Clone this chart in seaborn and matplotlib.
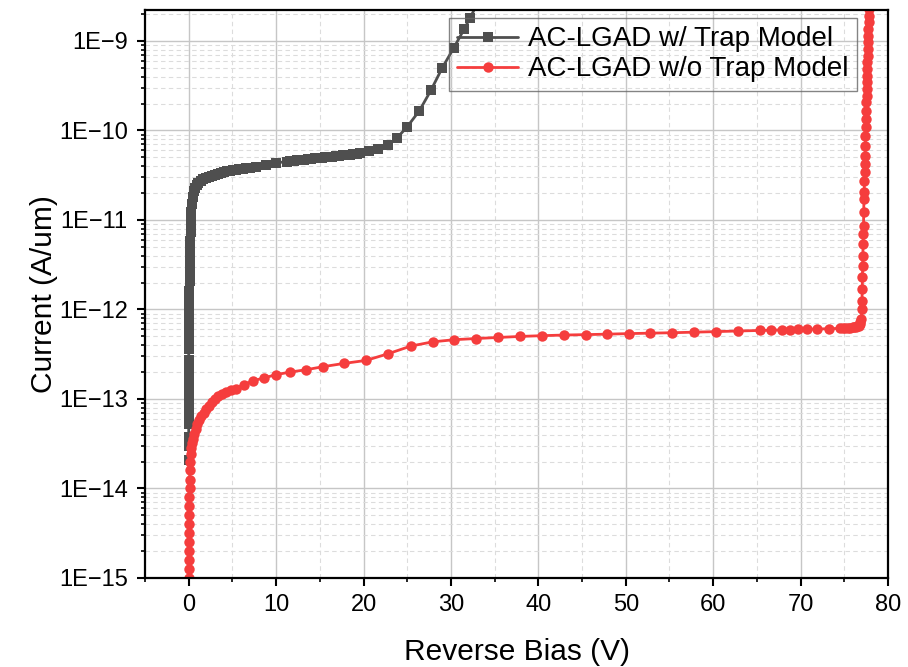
import matplotlib
matplotlib.use("Agg")
import numpy as np
import pandas as pd
import matplotlib.pyplot as plt
import seaborn as sns
from matplotlib.ticker import MultipleLocator, LogLocator, FuncFormatter, NullFormatter

# ---- simulated I-V data: AC-LGAD with trap model ----
trap_bias = [
    0.00, 0.00, 0.00, 0.00, 0.00, 0.00, 0.00, 0.00, 0.00, 0.00, 0.00, 0.00,
    0.02, 0.03, 0.04, 0.05, 0.06, 0.08, 0.10, 0.12, 0.14, 0.16, 0.19, 0.22, 0.26, 0.30, 0.36,
    0.45, 0.57, 0.72, 0.90, 1.10, 1.35, 1.65, 2.00, 2.30, 2.65, 3.00, 3.35, 3.70, 4.05, 4.40,
    4.75, 5.10, 5.45, 5.80, 6.20, 6.60, 7.00,
    7.70, 8.80, 10.00,
    11.2, 11.6, 12.0, 12.4, 12.8, 13.2, 13.6, 14.0, 14.4, 14.8, 15.2, 15.6, 16.0, 16.4, 16.8,
    17.2, 17.6, 18.0, 18.4, 18.8, 19.2, 19.6,
    20.6, 21.7, 22.8, 23.8, 25.0, 26.4, 27.7, 29.0, 30.3, 31.5, 32.2, 33.0,
]
trap_current = [
    2.1e-14, 2.95e-14, 3.8e-14, 5.2e-14, 6.4e-14, 7.9e-14, 9.8e-14, 1.27e-13, 1.65e-13, 2.1e-13,
    2.76e-13, 3.6e-13,
    4.6e-13, 5.9e-13, 7.6e-13, 9.8e-13, 1.26e-12, 1.62e-12, 2.1e-12, 2.7e-12, 3.5e-12, 4.5e-12,
    5.8e-12, 7.4e-12, 9.5e-12, 1.22e-11, 1.5e-11,
    1.8e-11, 2.1e-11, 2.3e-11, 2.48e-11, 2.62e-11, 2.76e-11, 2.88e-11, 2.98e-11, 3.05e-11,
    3.14e-11, 3.22e-11, 3.3e-11, 3.37e-11, 3.44e-11, 3.5e-11, 3.56e-11, 3.61e-11, 3.66e-11,
    3.71e-11, 3.76e-11, 3.8e-11, 3.85e-11,
    3.95e-11, 4.15e-11, 4.34e-11,
    4.5e-11, 4.55e-11, 4.6e-11, 4.65e-11, 4.7e-11, 4.74e-11, 4.79e-11, 4.84e-11, 4.88e-11,
    4.93e-11, 4.98e-11, 5.02e-11, 5.07e-11, 5.12e-11, 5.17e-11, 5.22e-11, 5.27e-11, 5.32e-11,
    5.37e-11, 5.42e-11, 5.48e-11, 5.55e-11,
    5.85e-11, 6.15e-11, 6.9e-11, 8.2e-11, 1.1e-10, 1.67e-10, 2.8e-10, 5.0e-10, 8.3e-10,
    1.35e-9, 1.82e-9, 2.6e-9,
]

# ---- simulated I-V data: AC-LGAD without trap model ----
notrap_bias = [
    0.08, 0.08, 0.08, 0.08, 0.08, 0.08, 0.08, 0.09, 0.09, 0.09, 0.10, 0.11, 0.13, 0.16,
    0.22, 0.30, 0.40, 0.52, 0.66, 0.82, 1.00, 1.20, 1.45, 1.70, 2.00, 2.30, 2.65, 3.00,
    3.40, 3.85, 4.30, 4.80, 5.40,
    6.3, 7.4, 8.6, 10.0, 11.6, 13.4, 15.4, 17.8, 20.3, 22.8, 25.4, 27.9, 30.4, 32.9, 35.4,
    37.9, 40.4, 42.9, 45.4, 47.8, 50.35, 52.8, 55.3, 57.8, 60.3, 62.8, 65.3, 66.6, 67.9,
    68.8, 69.7, 70.75, 71.9, 73.2,
    74.5, 74.8, 75.1, 75.4, 75.7, 75.95, 76.15, 76.35, 76.5, 76.65, 76.75, 76.85, 76.95,
    77.00, 77.02, 77.05, 77.07, 77.10, 77.12, 77.15, 77.17, 77.20, 77.22, 77.25, 77.27,
    77.30, 77.32, 77.35, 77.37, 77.40, 77.42, 77.45, 77.47, 77.50, 77.52, 77.55, 77.57,
    77.59, 77.61, 77.63, 77.65, 77.67, 77.69, 77.71, 77.73, 77.75, 77.77, 77.79, 77.81, 77.83,
]
notrap_current = [
    1.0e-15, 1.25e-15, 1.6e-15, 2.0e-15, 2.5e-15, 3.2e-15, 4.0e-15, 5.0e-15, 6.3e-15, 8.0e-15,
    1.0e-14, 1.25e-14, 1.6e-14, 2.0e-14,
    2.4e-14, 2.8e-14, 3.2e-14, 3.6e-14, 4.1e-14, 4.6e-14, 5.2e-14, 5.8e-14, 6.4e-14, 7.0e-14,
    7.7e-14, 8.4e-14, 9.2e-14, 1.0e-13, 1.07e-13, 1.14e-13, 1.2e-13, 1.25e-13, 1.31e-13,
    1.45e-13, 1.6e-13, 1.72e-13, 1.87e-13, 2.0e-13, 2.12e-13, 2.3e-13, 2.5e-13, 2.7e-13,
    3.2e-13, 3.9e-13, 4.35e-13, 4.6e-13, 4.74e-13, 4.87e-13, 5.0e-13, 5.1e-13, 5.18e-13,
    5.24e-13, 5.3e-13, 5.38e-13, 5.44e-13, 5.5e-13, 5.58e-13, 5.66e-13, 5.75e-13, 5.83e-13,
    5.87e-13, 5.92e-13, 5.95e-13, 5.98e-13, 6.02e-13, 6.05e-13, 6.1e-13,
    6.15e-13, 6.18e-13, 6.2e-13, 6.23e-13, 6.27e-13, 6.3e-13, 6.35e-13, 6.4e-13, 6.5e-13,
    6.6e-13, 6.8e-13, 7.2e-13, 7.9e-13,
    1.0e-12, 1.24e-12, 1.68e-12, 2.29e-12, 3.04e-12, 3.93e-12, 5.37e-12, 6.9e-12, 8.5e-12,
    1.23e-11, 1.7e-11, 2.04e-11, 2.7e-11, 3.4e-11, 4.2e-11, 5.2e-11, 6.7e-11, 8.7e-11,
    1.1e-10, 1.35e-10, 1.66e-10, 2.1e-10, 2.45e-10, 2.9e-10, 3.5e-10, 4.1e-10, 4.9e-10,
    5.85e-10, 6.8e-10, 8.1e-10, 9.7e-10, 1.15e-9, 1.37e-9, 1.65e-9, 1.9e-9, 2.3e-9, 2.8e-9,
]

series_labels = ["AC-LGAD w/ Trap Model", "AC-LGAD w/o Trap Model"]
x_label = "Reverse Bias (V)"
y_label = "Current (A/um)"

GRAY = "#4f4f4f"
RED = "#f53d3d"

sns.set_theme(style="white")
plt.rcParams["font.family"] = ["Liberation Sans", "DejaVu Sans"]
plt.rcParams["text.color"] = "black"
plt.rcParams["axes.labelcolor"] = "black"

fig = plt.figure(figsize=(9.08, 6.67), dpi=100)
ax = fig.add_axes([145 / 908, 1 - 578 / 667, 743 / 908, 568 / 667])

trap_df = pd.DataFrame({"bias": trap_bias, "current": trap_current})
notrap_df = pd.DataFrame({"bias": notrap_bias, "current": notrap_current})

sns.lineplot(data=trap_df, x="bias", y="current", ax=ax, color=GRAY, marker="s",
             markersize=6.5, markeredgewidth=0, linewidth=2.0, sort=False,
             estimator=None, label=series_labels[0])
sns.lineplot(data=notrap_df, x="bias", y="current", ax=ax, color=RED, marker="o",
             markersize=7.5, markeredgewidth=0, linewidth=2.0, sort=False,
             estimator=None, label=series_labels[1])

ax.set_yscale("log")
ax.set_xlim(-5, 80)
ax.set_ylim(1e-15, 2.22e-9)

ax.xaxis.set_major_locator(MultipleLocator(10))
ax.xaxis.set_minor_locator(MultipleLocator(5))
ax.yaxis.set_major_locator(LogLocator(base=10, numticks=20))
ax.yaxis.set_minor_locator(LogLocator(base=10, subs=np.arange(2, 10), numticks=20))
ax.yaxis.set_minor_formatter(NullFormatter())
ax.yaxis.set_major_formatter(
    FuncFormatter(lambda v, p: "1E\u2212%d" % int(round(-np.log10(v))))
)

ax.grid(which="major", color="#c6c6c6", linewidth=1.0)
ax.grid(which="minor", color="#dcdcdc", linewidth=0.8, linestyle=(0, (4, 3)))
ax.set_axisbelow(True)

ax.tick_params(which="major", direction="out", length=5.5, width=1.5, labelsize=17,
               bottom=True, left=True, top=False, right=False, colors="black")
ax.tick_params(which="minor", direction="out", length=3.2, width=1.2,
               bottom=True, left=True, top=False, right=False, colors="black")
ax.tick_params(axis="x", pad=6)
ax.tick_params(axis="y", pad=7)

for sp in ax.spines.values():
    sp.set_visible(True)
    sp.set_color("black")
    sp.set_linewidth(1.6)

ax.set_xlabel(x_label, fontsize=21.5, labelpad=16, color="black")
ax.set_ylabel(y_label, fontsize=21.5, labelpad=0.5, color="black")

leg = ax.legend(loc="upper right", bbox_to_anchor=((857 - 145) / 743, (578 - 18) / 568),
                fontsize=20, frameon=True, fancybox=False,
                handlelength=2.2, borderpad=0.3, borderaxespad=0,
                labelspacing=0.15, handletextpad=0.35)
frame = leg.get_frame()
frame.set_facecolor("none")
frame.set_edgecolor("#666666")
frame.set_linewidth(1.0)
for t in leg.get_texts():
    t.set_color("black")

fig.savefig("out.png", dpi=100)
